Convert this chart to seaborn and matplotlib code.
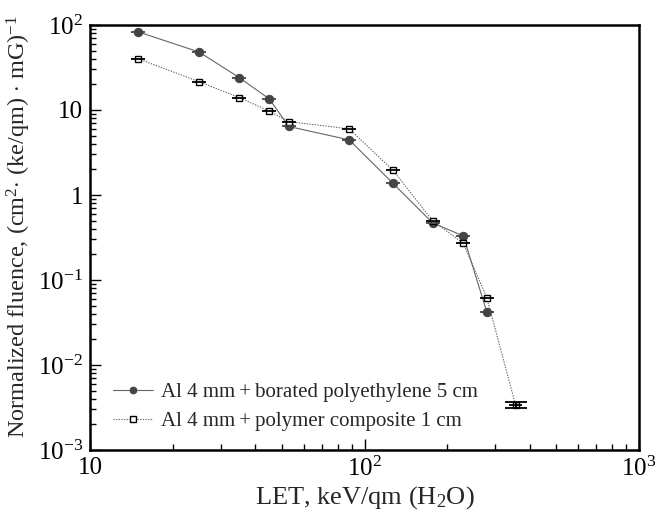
import numpy as np
import pandas as pd
import matplotlib
matplotlib.use("Agg")
import matplotlib.pyplot as plt
import seaborn as sns
from matplotlib.ticker import LogLocator, NullFormatter, FixedLocator, FixedFormatter

# ---- data ----
let_bpe = [15, 25, 35, 45, 53, 88, 127, 177, 229, 279]
flu_bpe = [83, 48, 24, 13.5, 6.4, 4.45, 1.37, 0.47, 0.33, 0.042]
let_pc = [15, 25, 35, 45, 53, 88, 127, 177, 229, 279, 355]
flu_pc = [40, 21.5, 14, 9.7, 7.3, 6.0, 1.95, 0.50, 0.27, 0.062, 0.0034]
flu_pc_err = [0, 0, 0, 0, 0, 0, 0, 0, 0, 0, 0.0003]
let_err_frac = 0.06

label_bpe = "Al 4 mm\u2009+\u2009borated polyethylene 5 cm"
label_pc = "Al 4 mm\u2009+\u2009polymer composite 1 cm"

xticks = [10, 100, 1000]
xticklabels = ["10", "$10^2$", "$10^3$"]
yticks = [1e-3, 1e-2, 1e-1, 1, 10, 100]
yticklabels = ["$10^{-3}$", "$10^{-2}$", "$10^{-1}$", "1", "10", "$10^2$"]

df1 = pd.DataFrame({"LET": let_bpe, "F": flu_bpe})
df2 = pd.DataFrame({"LET": let_pc, "F": flu_pc})

sns.set_style("white")
plt.rcParams["font.family"] = ["Liberation Serif", "DejaVu Serif"]
plt.rcParams["mathtext.fontset"] = "custom"
plt.rcParams["mathtext.rm"] = "Liberation Serif"
plt.rcParams["mathtext.it"] = "Liberation Serif:italic"

fig = plt.figure(figsize=(6.59, 5.20), dpi=100)
ax = fig.add_axes([90 / 659, 70 / 520, 549 / 659, 425 / 520])

mcol = "#444444"
sns.lineplot(data=df1, x="LET", y="F", ax=ax, color="#666666", lw=0.8,
             marker="o", markersize=6, markerfacecolor=mcol, markeredgecolor=mcol,
             label=label_bpe)
sns.lineplot(data=df2, x="LET", y="F", ax=ax, color="#666666", lw=0.8, linestyle=(0, (1.2, 1.2)),
             marker="s", markersize=5, markerfacecolor="white", markeredgecolor="black",
             markeredgewidth=1.0, label=label_pc)

x1 = np.array(let_bpe, float)
x2 = np.array(let_pc, float)
ax.errorbar(x1, flu_bpe, xerr=[x1 - x1 / (1 + let_err_frac), x1 * let_err_frac],
            fmt="none", ecolor="#444444", elinewidth=1.3, capsize=0)
ax.errorbar(x2, flu_pc, xerr=[x2 - x2 / (1 + let_err_frac), x2 * let_err_frac],
            yerr=flu_pc_err, fmt="none", ecolor="black", elinewidth=1.3, capsize=0)
ax.errorbar(x2[-1:], flu_pc[-1:], yerr=flu_pc_err[-1:], fmt="none", ecolor="black",
            elinewidth=1.0, capsize=8, capthick=1.3)

ax.set_xscale("log")
ax.set_yscale("log")
ax.set_xlim(10, 1000)
ax.set_ylim(1e-3, 100)

ax.xaxis.set_major_locator(FixedLocator(xticks))
ax.xaxis.set_major_formatter(FixedFormatter(xticklabels))
ax.yaxis.set_major_locator(FixedLocator(yticks))
ax.yaxis.set_major_formatter(FixedFormatter(yticklabels))
ax.xaxis.set_minor_locator(LogLocator(base=10, subs=np.arange(2, 10), numticks=20))
ax.yaxis.set_minor_locator(LogLocator(base=10, subs=np.arange(2, 10), numticks=20))
ax.xaxis.set_minor_formatter(NullFormatter())
ax.yaxis.set_minor_formatter(NullFormatter())

ax.tick_params(which="both", direction="in", bottom=True, left=True, top=False, right=False,
               colors="black", labelsize=18, width=1.0)
ax.tick_params(which="major", length=8, pad=5)
ax.tick_params(which="minor", length=4)
for s in ax.spines.values():
    s.set_visible(True)
    s.set_color("black")
    s.set_linewidth(1.8)

ax.set_xlabel("LET, keV/qm (H$_2$O)", fontsize=19, labelpad=2)
ax.set_ylabel("Normalized fluence, (cm$^2$$\\cdot$ (ke/qm) $\\cdot$ mG)$^{-1}$", fontsize=17.5)
ax.yaxis.set_label_coords(-0.104, 0.525)

leg = ax.legend(loc="lower left", bbox_to_anchor=(0.02, 0.015), frameon=False, fontsize=15,
                handlelength=1.9, handletextpad=0.4, labelspacing=0.45, markerscale=0.8,
                borderaxespad=0.2)

fig.savefig("out.png", dpi=100)
